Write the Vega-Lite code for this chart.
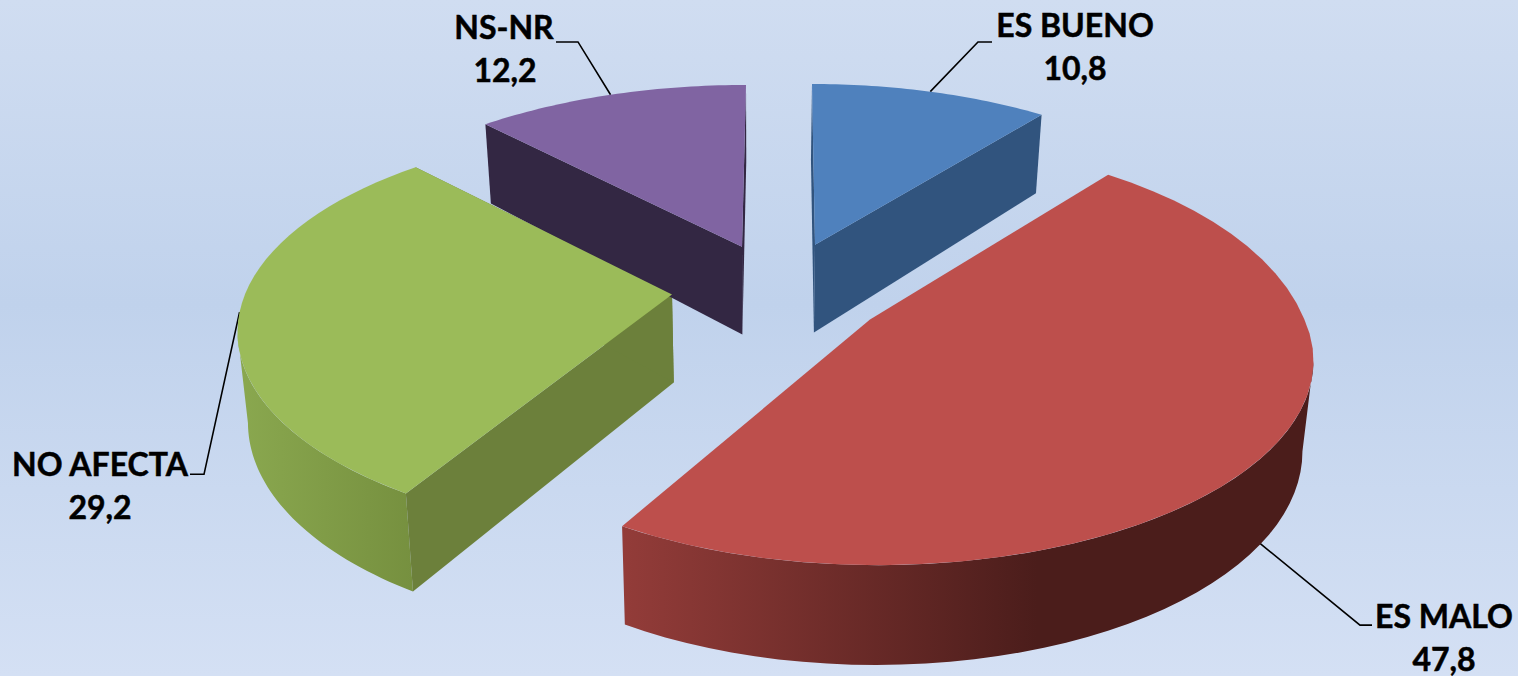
{"$schema":"https://vega.github.io/schema/vega-lite/v6.json","width":1518,"height":677,"autosize":{"type":"fit","contains":"padding"},"padding":0,"view":{"stroke":null},"data":{"values":[{"categoria":"ES BUENO","valor":10.8,"orden":1},{"categoria":"ES MALO","valor":47.8,"orden":2},{"categoria":"NO AFECTA","valor":29.2,"orden":3},{"categoria":"NS-NR","valor":12.2,"orden":4}]},"transform":[{"stack":"valor","groupby":[],"sort":[{"field":"orden","order":"ascending"}],"as":["v0","v1"]},{"calculate":"datum.v0*PI/50","as":"t0"},{"calculate":"datum.v1*PI/50-(datum.categoria=='ES MALO'?0.026:0)","as":"t1"},{"calculate":"datum.categoria=='ES BUENO'?815:datum.categoria=='ES MALO'?870:datum.categoria=='NO AFECTA'?672:742","as":"ax"},{"calculate":"datum.categoria=='ES BUENO'?245:datum.categoria=='ES MALO'?320:datum.categoria=='NO AFECTA'?295:247","as":"ay"},{"calculate":"datum.categoria=='ES BUENO'?812:datum.categoria=='ES MALO'?878:datum.categoria=='NO AFECTA'?672:746","as":"cx"},{"calculate":"datum.categoria=='ES BUENO'?246:datum.categoria=='ES MALO'?319:datum.categoria=='NO AFECTA'?290:247","as":"cy"},{"calculate":"datum.categoria=='NS-NR'?432:datum.categoria=='ES MALO'?426:425","as":"A"},{"calculate":"datum.categoria=='ES MALO'?215:195.6","as":"B"}],"encoding":{"x":{"field":"x","type":"quantitative","axis":null,"scale":{"domain":[0,1518],"nice":false,"zero":false}},"y":{"field":"y","type":"quantitative","axis":null,"scale":{"domain":[677,0],"nice":false,"zero":false}}},"resolve":{"scale":{"fill":"independent"}},"layer":[{"transform":[{"filter":"datum.orden==1"},{"calculate":"0","as":"x"},{"calculate":"0","as":"y"},{"calculate":"1518","as":"x2"},{"calculate":"677","as":"y2"}],"mark":{"type":"rect","fill":{"gradient":"linear","x1":0,"y1":0,"x2":0,"y2":1,"stops":[{"offset":0,"color":"#d0ddf1"},{"offset":0.45,"color":"#c0d2ec"},{"offset":1,"color":"#d4e0f4"}]}},"encoding":{"x2":{"field":"x2"},"y2":{"field":"y2"}}},{"transform":[{"calculate":"[0,1,2]","as":"k"},{"flatten":["k"]},{"calculate":"(datum.t0+datum.t1)/2","as":"th"},{"calculate":"datum.cx+datum.A*sin(datum.th)/(1+0.208*cos(datum.th))-(datum.categoria=='ES MALO'?18:0)","as":"mx"},{"calculate":"datum.cy-(cos(datum.th)>0?datum.B:195.6)*cos(datum.th)/(1+0.208*cos(datum.th))+(datum.categoria=='ES MALO'?100:0)","as":"my"},{"calculate":"datum.k==0?datum.mx:datum.k==1?(datum.categoria=='ES BUENO'?978:datum.categoria=='ES MALO'?1360:datum.categoria=='NO AFECTA'?204:578):(datum.categoria=='ES BUENO'?992:datum.categoria=='ES MALO'?1372:datum.categoria=='NO AFECTA'?190:556)","as":"x"},{"calculate":"datum.k==0?datum.my:(datum.categoria=='ES BUENO'?42:datum.categoria=='ES MALO'?626:datum.categoria=='NO AFECTA'?475:42)","as":"y"}],"mark":{"type":"line","stroke":"#000000","strokeWidth":1.6},"encoding":{"detail":{"field":"categoria"},"order":{"field":"k","type":"quantitative"}}},{"transform":[{"filter":"datum.categoria=='ES MALO'||datum.categoria=='NO AFECTA'"},{"calculate":"datum.categoria=='ES MALO'?1.78:datum.t0","as":"rs"},{"calculate":"datum.categoria=='ES MALO'?datum.t1:4.5","as":"re"},{"calculate":"[0,1,2,3,4,5,6,7,8,9,10,11,12,13,14,15,16,17,18,19,20,21,22,23,24,25,26,27,28,29,30,31,32,33,34,35,36,37,38,39,40,41,42,43,44,45,46,47,48,49,50,51,52,53,54,55,56,57,58,59,60,61,62,63,64,65,66,67,68,69,70,71,72,73,74,75,76,77,78,79,80,81]","as":"q"},{"flatten":["q"]},{"calculate":"datum.q<=40?datum.q:81-datum.q","as":"p"},{"calculate":"datum.rs+(datum.re-datum.rs)*datum.p/40","as":"th"},{"calculate":"datum.cx+datum.A*sin(datum.th)/(1+0.208*cos(datum.th))","as":"tx"},{"calculate":"datum.cy-(cos(datum.th)>0?datum.B:195.6)*cos(datum.th)/(1+0.208*cos(datum.th))","as":"ty"},{"calculate":"datum.q<=40?datum.tx:760+(datum.tx-760)*0.98","as":"x"},{"calculate":"datum.q<=40?datum.ty:datum.ty+88-12*cos(datum.th)","as":"y"}],"layer":[{"transform":[{"filter":"datum.categoria=='ES MALO'"}],"mark":{"type":"line","strokeWidth":0,"fill":{"gradient":"linear","x1":0,"y1":0,"x2":1,"y2":0,"stops":[{"offset":0,"color":"#933c39"},{"offset":0.6,"color":"#4b1d1b"},{"offset":1,"color":"#4b1d1b"}]}},"encoding":{"order":{"field":"q","type":"quantitative"}}},{"transform":[{"filter":"datum.categoria=='NO AFECTA'"}],"mark":{"type":"line","strokeWidth":0,"fill":{"gradient":"linear","x1":0,"y1":0,"x2":1,"y2":0,"stops":[{"offset":0,"color":"#8aa84f"},{"offset":1,"color":"#76903f"}]}},"encoding":{"order":{"field":"q","type":"quantitative"}}}]},{"transform":[{"filter":"datum.categoria!='ES MALO'"},{"calculate":"[0,1]","as":"c"},{"flatten":["c"]},{"calculate":"[0,1,2,3]","as":"k"},{"flatten":["k"]},{"calculate":"datum.c==0?datum.t0:datum.t1","as":"th"},{"calculate":"datum.cx+datum.A*sin(datum.th)/(1+0.208*cos(datum.th))","as":"ex"},{"calculate":"datum.cy-(cos(datum.th)>0?datum.B:195.6)*cos(datum.th)/(1+0.208*cos(datum.th))","as":"ey"},{"calculate":"datum.k==0?datum.ax:datum.k==1?datum.ex:datum.k==2?760+(datum.ex-760)*0.98:760+(datum.ax-760)*0.98","as":"x"},{"calculate":"datum.k==0?datum.ay:datum.k==1?datum.ey:datum.k==2?datum.ey+88-12*cos(datum.th):datum.ay+88","as":"y"}],"mark":{"type":"line","strokeWidth":0},"encoding":{"fill":{"field":"categoria","type":"nominal","legend":null,"scale":{"domain":["ES BUENO","NO AFECTA","NS-NR"],"range":["#31547e","#6c803b","#332743"]}},"detail":{"field":"c"},"order":{"field":"k","type":"quantitative"}}},{"transform":[{"calculate":"[-1,0,1,2,3,4,5,6,7,8,9,10,11,12,13,14,15,16,17,18,19,20,21,22,23,24,25,26,27,28,29,30,31,32,33,34,35,36,37,38,39,40]","as":"p"},{"flatten":["p"]},{"calculate":"datum.t0+(datum.t1-datum.t0)*max(datum.p,0)/40","as":"th"},{"calculate":"datum.p<0?datum.ax:datum.cx+datum.A*sin(datum.th)/(1+0.208*cos(datum.th))","as":"x"},{"calculate":"datum.p<0?datum.ay:datum.cy-(cos(datum.th)>0?datum.B:195.6)*cos(datum.th)/(1+0.208*cos(datum.th))","as":"y"}],"mark":{"type":"line","strokeWidth":0},"encoding":{"fill":{"field":"categoria","type":"nominal","legend":null,"scale":{"domain":["ES BUENO","ES MALO","NO AFECTA","NS-NR"],"range":["#4f81bd","#bd4f4c","#9bbb59","#8064a2"]}},"order":{"field":"p","type":"quantitative"}}},{"transform":[{"calculate":"datum.categoria=='ES BUENO'?1075:datum.categoria=='ES MALO'?1444:datum.categoria=='NO AFECTA'?100:504","as":"x"},{"calculate":"datum.categoria=='ES BUENO'?27:datum.categoria=='ES MALO'?619:datum.categoria=='NO AFECTA'?467:29","as":"y"}],"mark":{"type":"text","font":"Lato","fontWeight":"bold","fontSize":32,"align":"center","baseline":"middle","fill":"#000000","stroke":"#000000","strokeWidth":0.5},"encoding":{"text":{"field":"categoria","type":"nominal"}}},{"transform":[{"calculate":"replace(format(datum.valor,'.1f'),'.',',')","as":"etiqueta"},{"calculate":"datum.categoria=='ES BUENO'?1075:datum.categoria=='ES MALO'?1444:datum.categoria=='NO AFECTA'?100:505","as":"x"},{"calculate":"datum.categoria=='ES BUENO'?70:datum.categoria=='ES MALO'?662:datum.categoria=='NO AFECTA'?510:72","as":"y"}],"mark":{"type":"text","font":"Lato","fontWeight":"bold","fontSize":32,"align":"center","baseline":"middle","fill":"#000000","stroke":"#000000","strokeWidth":0.5},"encoding":{"text":{"field":"etiqueta","type":"nominal"}}}]}
